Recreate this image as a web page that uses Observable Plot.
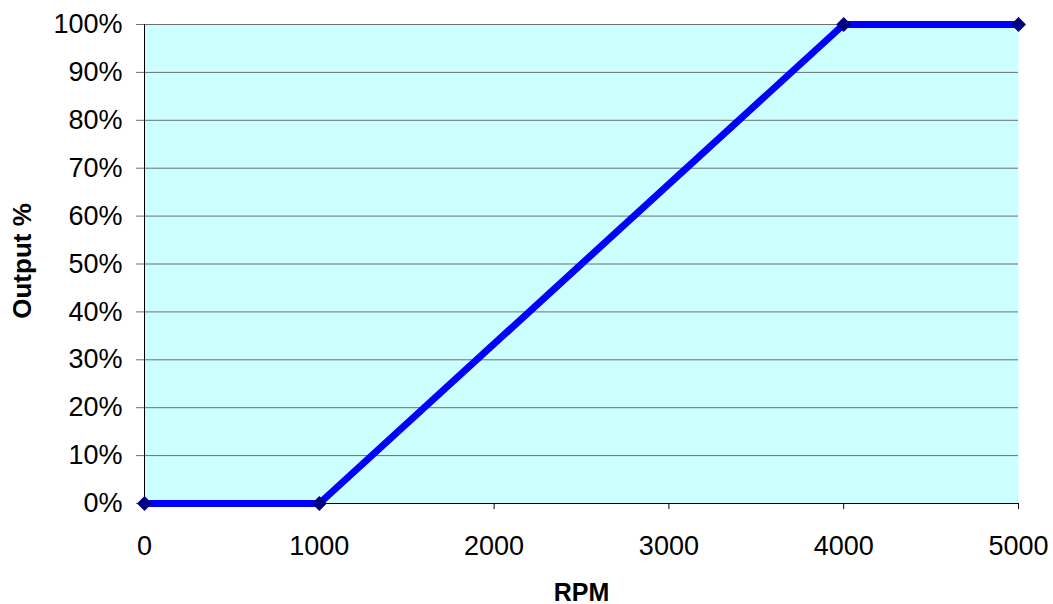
<!DOCTYPE html>
<html>
<head>
<meta charset="utf-8">
<script src="https://cdn.jsdelivr.net/npm/d3@7"></script>
<script src="https://cdn.jsdelivr.net/npm/@observablehq/plot@0.6"></script>
<style>
  html, body { margin: 0; padding: 0; background: #fff; }
  svg { display: block; }
</style>
</head>
<body>
<div id="chart"></div>
<script>
const rpm = [0, 1000, 4000, 5000];
const output = [0, 0, 100, 100];
const xTicks = [0, 1000, 2000, 3000, 4000, 5000];
const yTicks = [0, 10, 20, 30, 40, 50, 60, 70, 80, 90, 100];
const xLabel = "RPM";
const yLabel = "Output %";

const data = rpm.map((r, i) => ({rpm: r, out: output[i]}));

const chart = Plot.plot({
  width: 1053,
  height: 604,
  marginLeft: 144,
  marginRight: 35,
  marginTop: 24,
  marginBottom: 101,
  style: {fontFamily: "Liberation Sans, Arial, sans-serif", fontSize: "27px", color: "#000", background: "#fff"},
  x: {domain: [0, 5000]},
  y: {domain: [0, 100]},
  marks: [
    Plot.frame({fill: "#ccffff", stroke: null}),
    Plot.ruleY(yTicks.filter(d => d > 0), {stroke: "#6e6e6e", strokeWidth: 1}),
    Plot.ruleX([0], {stroke: "#000", strokeWidth: 1}),
    Plot.ruleY([0], {stroke: "#000", strokeWidth: 1}),
    Plot.axisY({ticks: yTicks, tickSize: 8, tickFormat: d => d + "%", tickPadding: 14, fontSize: 27, stroke: "#6e6e6e", strokeOpacity: 1, label: null}),
    Plot.axisX({ticks: xTicks, tickSize: 6, tickFormat: d => String(d), tickPadding: 26, fontSize: 27, stroke: "#000", strokeOpacity: 1, label: null}),
    Plot.text([xLabel], {frameAnchor: "bottom", dy: 89, lineAnchor: "middle", textAnchor: "middle", fontWeight: "bold", fontSize: 25}),
    Plot.text([yLabel], {frameAnchor: "left", dx: -122, dy: -3, lineAnchor: "middle", textAnchor: "middle", rotate: -90, fontWeight: "bold", fontSize: 26}),
    Plot.line(data, {x: "rpm", y: "out", stroke: "#0000ff", strokeWidth: 7}),
    Plot.dot(data, {x: "rpm", y: "out", symbol: "diamond2", r: 6.75, fill: "#000080", stroke: null})
  ]
});
document.getElementById("chart").appendChild(chart);
</script>
</body>
</html>
